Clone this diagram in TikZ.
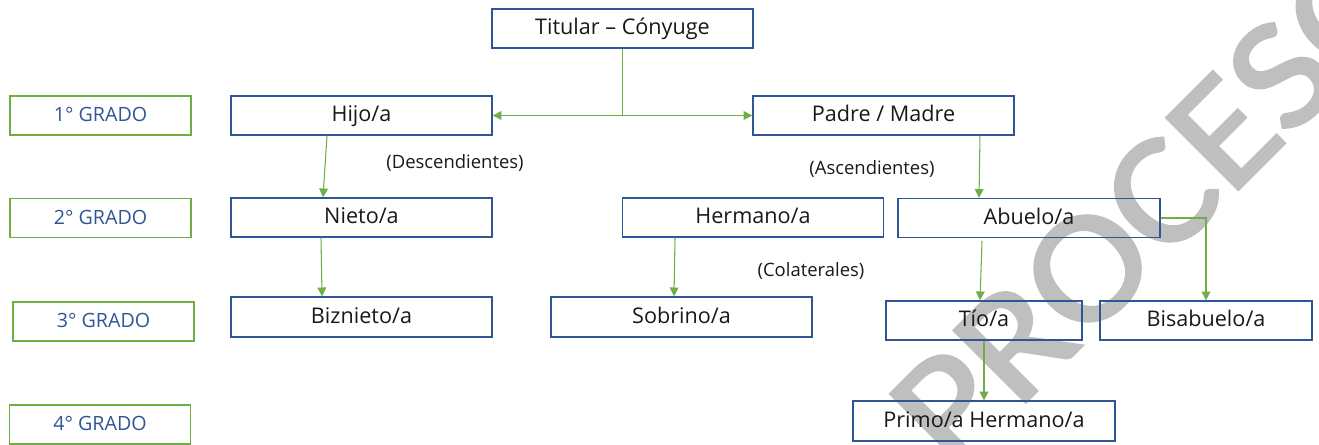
\documentclass[tikz,border=0pt]{standalone}
\usepackage{fontspec}
\setmainfont{Open Sans}
\newfontfamily\marcafont[RawFeature={embolden=1.8}]{Carlito}
\usepackage{tikz}
\usetikzlibrary{positioning,arrows.meta}
\definecolor{azul}{RGB}{47,85,151}
\definecolor{verde}{RGB}{112,173,71}
\definecolor{marca}{RGB}{191,191,191}

\begin{document}
\begin{tikzpicture}[x=0.02cm,y=-0.02cm,>={Triangle[length=5pt,width=5pt]}]
	\tikzstyle{pariente}=[rectangle,draw=azul,line width=0.8pt,minimum width=5.22cm,minimum height=0.78cm,inner sep=0pt,text height=0.72em,text depth=0pt,text=black!90,font=\fontsize{12.3}{14}\selectfont]
	\tikzstyle{grado}=[rectangle,draw=verde,line width=0.8pt,minimum width=3.62cm,minimum height=0.78cm,inner sep=0pt,text height=0.72em,text depth=0pt,text=azul,font=\fontsize{11.2}{13}\selectfont]
	\tikzstyle{linea}=[draw=verde,line width=0.6pt]
	\tikzstyle{flecha}=[linea,->]
	\tikzstyle{nota}=[text height=0.72em,text depth=0pt,text=black!90,font=\fontsize{10.5}{12}\selectfont]
	
	\useasboundingbox (0,0) rectangle (1319,445);
	
	% Watermark behind everything
	\begin{scope}
	\clip (0,0) rectangle (1319,445);
	\node[text=marca,rotate=45,xscale=1.1,font=\marcafont\fontsize{90}{90}\selectfont] (marca) at (1154,202) {PROCESO};
	\end{scope}
	
	% Draw the degree labels
	\node[grado] (G-1) at (100.5,115.5) {1° GRADO};
	\node[grado] (G-2) at (100.5,218) {2° GRADO};
	\node[grado] (G-3) at (103.5,321.5) {3° GRADO};
	\node[grado] (G-4) at (100,424.5) {4° GRADO};
	
	% Draw the relatives
	\node[pariente] (titular) at (622.5,28.5) {Titular – Cónyuge};
	\node[pariente] (hijo) at (361.5,115.5) {Hijo/a};
	\node[pariente] (padre) at (883.5,115.5) {Padre / Madre};
	\node[pariente] (nieto) at (361.5,217.5) {Nieto/a};
	\node[pariente] (hermano) at (753,217.5) {Hermano/a};
	\node[pariente,minimum width=5.24cm] (abuelo) at (1029,218) {Abuelo/a};
	\node[pariente,minimum height=0.8cm] (biznieto) at (361.5,317) {Biznieto/a};
	\node[pariente,minimum height=0.8cm] (sobrino) at (681.5,317) {Sobrino/a};
	\node[pariente,minimum width=3.92cm] (tio) at (984,320.5) {Tío/a};
	\node[pariente,minimum width=4.24cm] (bisabuelo) at (1206,320.5) {Bisabuelo/a};
	\node[pariente,minimum width=5.24cm,minimum height=0.8cm] (primo) at (984,421) {Primo/a Hermano/a};
	
	% Annotate the lines
	\node[nota] (desc) at (455,162) {(Descendientes)};
	\node[nota] (asc) at (872,168) {(Ascendientes)};
	\node[nota] (colat) at (811,270) {(Colaterales)};
	
	% Connect the holder with children and parents
	\coordinate (reparto) at (titular.south |- hijo.east);
	\draw[linea] (titular.south) -- (reparto);
	\draw[flecha] (reparto) -- (hijo.east);
	\draw[flecha] (reparto) -- (padre.west);
	
	% Descendants
	\draw[flecha] ([xshift=-0.69cm]hijo.south) -- ([xshift=-0.77cm]nieto.north);
	\draw[flecha] ([xshift=-0.81cm]nieto.south) -- ([xshift=-0.79cm]biznieto.north);
	
	% Collaterals
	\draw[flecha] ([xshift=-1.56cm]hermano.south) -- ([xshift=-0.15cm]sobrino.north);
	
	% Ascendants
	\draw[flecha] ([xshift=1.93cm]padre.south) -- ([xshift=-1cm]abuelo.north);
	\draw[flecha] ([xshift=-0.94cm,yshift=-0.06cm]abuelo.south) -- ([xshift=-0.08cm]tio.north);
	\draw[flecha] (abuelo.east) -| (bisabuelo.north);
	\draw[flecha] (tio.south) -- (primo.north);
\end{tikzpicture}
\end{document}
